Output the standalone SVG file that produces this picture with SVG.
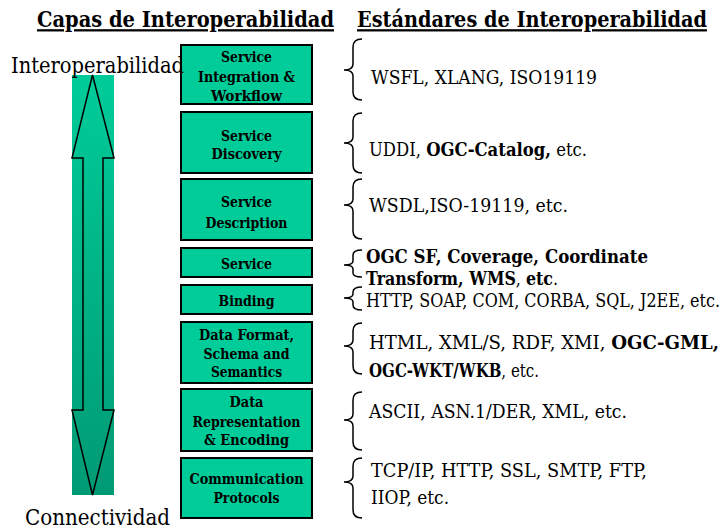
<svg xmlns="http://www.w3.org/2000/svg" width="728" height="529" viewBox="0 0 728 529">
<defs>
<linearGradient id="arrowGrad" x1="0" y1="0" x2="0" y2="1">
<stop offset="0" stop-color="#00cc99"/>
<stop offset="1" stop-color="#009a74"/>
</linearGradient>
</defs>
<style>
text{font-family:'DejaVu Serif','Liberation Serif',serif;fill:#000}
.title{font-size:22.7px;font-weight:bold;text-decoration:underline}
.big{font-size:22.7px}
.box rect{fill:#00cc99;stroke:#000;stroke-width:2}
.box text{font-size:15px;font-weight:bold;text-anchor:middle}
.std{font-size:18.2px}
.b{font-weight:bold}
.brace{fill:none;stroke:#000;stroke-width:1.5}
</style>
<rect width="728" height="529" fill="#fff"/>
<text class="title" transform="translate(37,27) scale(0.81,1)" textLength="366.7" lengthAdjust="spacingAndGlyphs">Capas de Interoperabilidad</text>
<text class="title" transform="translate(357,27) scale(0.81,1)" textLength="432.1" lengthAdjust="spacingAndGlyphs">Estándares de Interoperabilidad</text>
<g id="axis">
<rect x="72" y="75" width="42" height="420" fill="url(#arrowGrad)"/>
<path d="M92.5,75 L114,158 L103,158 L103,410 L114,410 L92.5,495 L72,410 L83,410 L83,158 L72,158 Z" fill="none" stroke="#000" stroke-width="1.5" stroke-linejoin="miter"/>
</g>
<g id="layer1" class="box"><rect x="181" y="45" width="131" height="59"/>
<text transform="translate(246.5,62) scale(0.81,1)" textLength="63" lengthAdjust="spacingAndGlyphs">Service</text>
<text transform="translate(246.5,82) scale(0.81,1)" textLength="119.8" lengthAdjust="spacingAndGlyphs">Integration &amp;</text>
<text transform="translate(246.5,100.5) scale(0.81,1)" textLength="87.7" lengthAdjust="spacingAndGlyphs">Workflow</text></g>
<g id="layer2" class="box"><rect x="181" y="112" width="131" height="61"/>
<text transform="translate(246.5,141) scale(0.81,1)" textLength="63" lengthAdjust="spacingAndGlyphs">Service</text>
<text transform="translate(246.5,159) scale(0.81,1)" textLength="86.4" lengthAdjust="spacingAndGlyphs">Discovery</text></g>
<g id="layer3" class="box"><rect x="181" y="179" width="131" height="61"/>
<text transform="translate(246.5,207) scale(0.81,1)" textLength="63" lengthAdjust="spacingAndGlyphs">Service</text>
<text transform="translate(246.5,228) scale(0.81,1)" textLength="101.2" lengthAdjust="spacingAndGlyphs">Description</text></g>
<g id="layer4" class="box"><rect x="181" y="248" width="131" height="29"/>
<text transform="translate(246.5,269) scale(0.81,1)" textLength="63" lengthAdjust="spacingAndGlyphs">Service</text></g>
<g id="layer5" class="box"><rect x="181" y="285" width="131" height="29"/>
<text transform="translate(246.5,306) scale(0.81,1)" textLength="69.1" lengthAdjust="spacingAndGlyphs">Binding</text></g>
<g id="layer6" class="box"><rect x="181" y="322" width="131" height="61"/>
<text transform="translate(246.5,340) scale(0.81,1)" textLength="117.3" lengthAdjust="spacingAndGlyphs">Data Format,</text>
<text transform="translate(246.5,358.5) scale(0.81,1)" textLength="106.2" lengthAdjust="spacingAndGlyphs">Schema and</text>
<text transform="translate(246.5,377) scale(0.81,1)" textLength="87.7" lengthAdjust="spacingAndGlyphs">Semantics</text></g>
<g id="layer7" class="box"><rect x="181" y="389" width="131" height="62"/>
<text transform="translate(246.5,407) scale(0.81,1)" textLength="42" lengthAdjust="spacingAndGlyphs">Data</text>
<text transform="translate(246.5,427) scale(0.81,1)" textLength="133.3" lengthAdjust="spacingAndGlyphs">Representation</text>
<text transform="translate(246.5,445) scale(0.81,1)" textLength="104.9" lengthAdjust="spacingAndGlyphs">&amp; Encoding</text></g>
<g id="layer8" class="box"><rect x="181" y="458" width="131" height="60"/>
<text transform="translate(246.5,484) scale(0.81,1)" textLength="140.7" lengthAdjust="spacingAndGlyphs">Communication</text>
<text transform="translate(246.5,503) scale(0.81,1)" textLength="81.5" lengthAdjust="spacingAndGlyphs">Protocols</text></g>
<text class="big" transform="translate(11,73) scale(0.87,1)" textLength="198.9" lengthAdjust="spacingAndGlyphs">Interoperabilidad</text>
<text class="big" transform="translate(25,525) scale(0.87,1)" textLength="166.7" lengthAdjust="spacingAndGlyphs">Connectividad</text>
<g id="connectors">
<path class="brace" d="M362,39 Q353,39 353,47 L353,64 Q353,70 344,70 Q353,70 353,76 L353,92 Q353,100 362,100"/>
<path class="brace" d="M362,113 Q353,113 353,121 L353,137 Q353,143 344,143 Q353,143 353,149 L353,165 Q353,173 362,173"/>
<path class="brace" d="M362,179 Q353,179 353,187 L353,199 Q353,205 344,205 Q353,205 353,211 L353,231 Q353,239 362,239"/>
<path class="brace" d="M362,250 Q353,250 353,255 L353,261 Q353,265 344,265 Q353,265 353,269 L353,273 Q353,277 362,277"/>
<path class="brace" d="M362,287 Q353,287 353,292 L353,294 Q353,298 344,298 Q353,298 353,302 L353,305 Q353,310 362,310"/>
<path class="brace" d="M362,323 Q353,323 353,331 L353,340 Q353,346 344,346 Q353,346 353,352 L353,366 Q353,374 362,374"/>
<path class="brace" d="M362,392 Q353,392 353,400 L353,414 Q353,420 344,420 Q353,420 353,426 L353,442 Q353,450 362,450"/>
<path class="brace" d="M362,458 Q353,458 353,466 L353,476 Q353,482 344,482 Q353,482 353,488 L353,510 Q353,518 362,518"/>
</g>
<g id="standards">
<text class="std" transform="translate(371,84) scale(0.87,1)" textLength="259.8" lengthAdjust="spacingAndGlyphs">WSFL, XLANG, ISO19119</text>
<text class="std" transform="translate(369,156) scale(0.85,1)" textLength="256.5" lengthAdjust="spacingAndGlyphs">UDDI, <tspan class="b">OGC-Catalog,</tspan> etc.</text>
<text class="std" transform="translate(369,212) scale(0.87,1)" textLength="228.7" lengthAdjust="spacingAndGlyphs">WSDL,ISO-19119, etc.</text>
<text class="std b" transform="translate(366,263) scale(0.81,1)" textLength="348.1" lengthAdjust="spacingAndGlyphs">OGC SF, Coverage, Coordinate</text>
<text class="std" transform="translate(366,285) scale(0.85,1)" textLength="225.9" lengthAdjust="spacingAndGlyphs"><tspan class="b">Transform, WMS</tspan>, <tspan class="b">etc</tspan>.</text>
<text class="std" transform="translate(366,307) scale(0.87,1)" textLength="406.9" lengthAdjust="spacingAndGlyphs">HTTP, SOAP, COM, CORBA, SQL, J2EE, etc.</text>
<text class="std" transform="translate(369,349) scale(0.85,1)" textLength="411.8" lengthAdjust="spacingAndGlyphs">HTML, XML/S, RDF, XMI, <tspan class="b">OGC-GML,</tspan></text>
<text class="std" transform="translate(369,377) scale(0.76,1)" textLength="223.7" lengthAdjust="spacingAndGlyphs"><tspan class="b">OGC-WKT/WKB</tspan>, etc.</text>
<text class="std" transform="translate(369,418) scale(0.87,1)" textLength="296.6" lengthAdjust="spacingAndGlyphs">ASCII, ASN.1/DER, XML, etc.</text>
<text class="std" transform="translate(371,477) scale(0.87,1)" textLength="317.2" lengthAdjust="spacingAndGlyphs">TCP/IP, HTTP, SSL, SMTP, FTP,</text>
<text class="std" transform="translate(371,504) scale(0.87,1)" textLength="89.7" lengthAdjust="spacingAndGlyphs">IIOP, etc.</text>
</g>
</svg>
